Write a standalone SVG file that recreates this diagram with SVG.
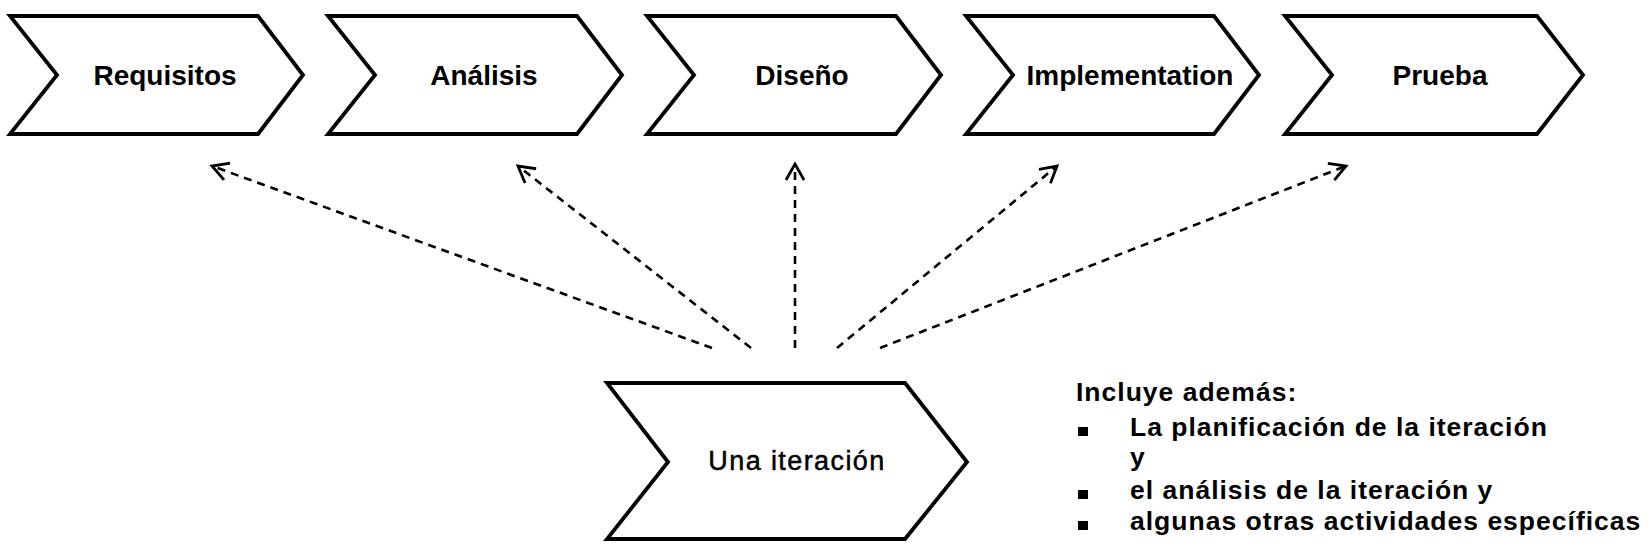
<svg xmlns="http://www.w3.org/2000/svg" width="1651" height="555" viewBox="0 0 1651 555">
<style>
.chev{fill:#fff;stroke:#000;stroke-width:3.8;stroke-linejoin:miter}
.lbl{font-family:"Liberation Sans",Arial,sans-serif;font-weight:bold;font-size:28px;text-anchor:middle;fill:#000}
.lbl2{font-family:"Liberation Sans",Arial,sans-serif;font-size:27px;letter-spacing:1.4px;text-anchor:middle;fill:#000;stroke:#000;stroke-width:0.5}
.lst{font-family:"Liberation Sans",Arial,sans-serif;font-weight:bold;font-size:26.5px;letter-spacing:1px;fill:#000}
.dash{fill:none;stroke:#000;stroke-width:2.6;stroke-dasharray:8 6;marker-end:url(#ah)}
</style>
<defs>
<marker id="ah" markerWidth="24" markerHeight="24" refX="20" refY="12" orient="auto" markerUnits="userSpaceOnUse">
<path d="M4,3 L20,12 L4,21" fill="none" stroke="#000" stroke-width="2.8"/>
</marker>
</defs>
<rect width="1651" height="555" fill="#fff"/>
<g id="requisitos">
<path class="chev" d="M10,16 L258,16 L303,75 L258,134 L10,134 L57,75 Z"/>
<text class="lbl" x="165" y="85">Requisitos</text>
</g>
<g id="analisis">
<path class="chev" d="M328,16 L577,16 L622,75 L577,134 L328,134 L375,75 Z"/>
<text class="lbl" x="484" y="85">Análisis</text>
</g>
<g id="diseno">
<path class="chev" d="M647,16 L896,16 L941,75 L896,134 L647,134 L694,75 Z"/>
<text class="lbl" x="802" y="85">Diseño</text>
</g>
<g id="implementation">
<path class="chev" d="M966,16 L1214,16 L1259,75 L1214,134 L966,134 L1013,75 Z"/>
<text class="lbl" x="1130" y="85">Implementation</text>
</g>
<g id="prueba">
<path class="chev" d="M1285,16 L1537,16 L1583,75 L1537,134 L1285,134 L1332,75 Z"/>
<text class="lbl" x="1440" y="85">Prueba</text>
</g>
<g id="una-iteracion">
<path class="chev" d="M607,383 L905,383 L967,462 L905,539 L607,539 L668,462 Z"/>
<text class="lbl2" x="797" y="470">Una iteración</text>
</g>
<g id="connectors">
<line class="dash" x1="712" y1="348" x2="212" y2="166"/>
<line class="dash" x1="751" y1="348" x2="518" y2="166"/>
<line class="dash" x1="795" y1="348" x2="795" y2="164"/>
<line class="dash" x1="837" y1="348" x2="1057" y2="166"/>
<line class="dash" x1="880" y1="348" x2="1346" y2="166"/>
</g>
<g id="notes">
<text class="lst" x="1076" y="401">Incluye además:</text>
<rect x="1078" y="427" width="10" height="9"/>
<text class="lst" x="1130" y="436">La planificación de la iteración</text>
<text class="lst" x="1130" y="466">y</text>
<rect x="1078" y="490" width="10" height="9"/>
<text class="lst" x="1130" y="499">el análisis de la iteración y</text>
<rect x="1078" y="521" width="10" height="9"/>
<text class="lst" x="1130" y="530">algunas otras actividades específicas</text>
</g>
</svg>
